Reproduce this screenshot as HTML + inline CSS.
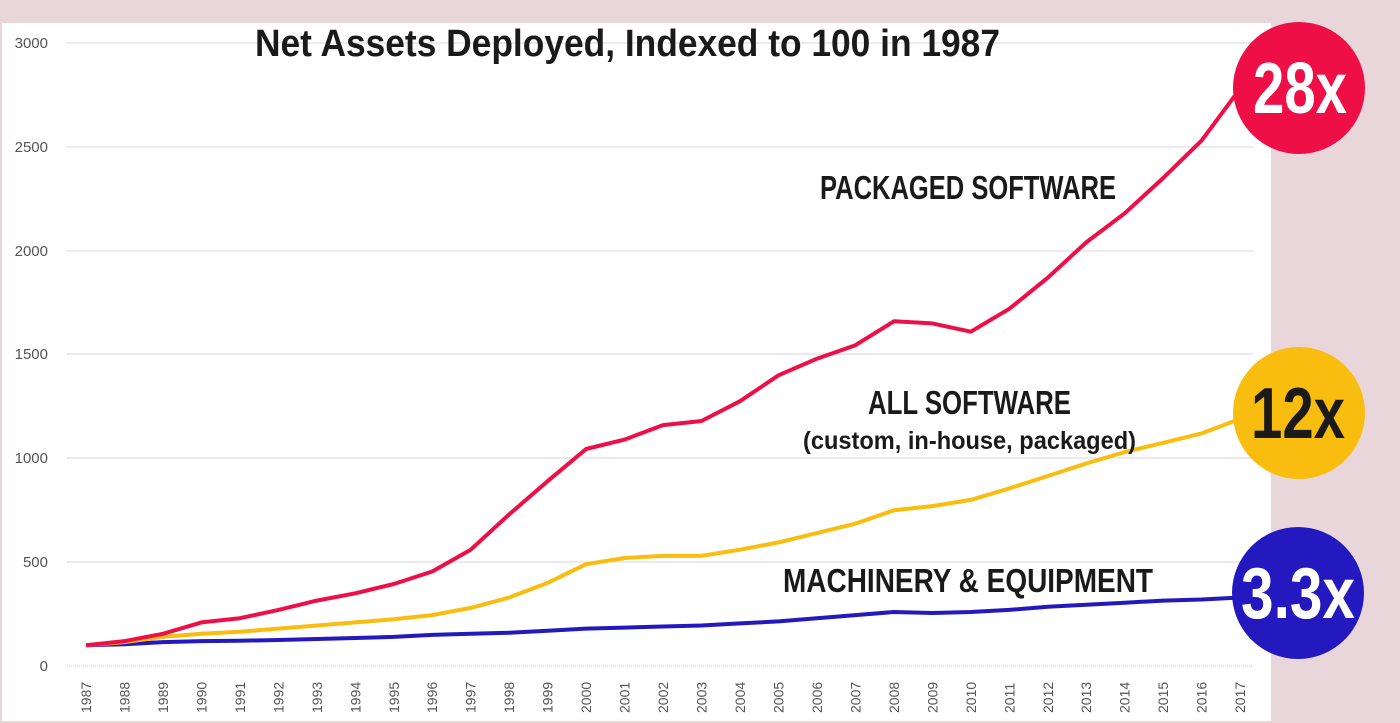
<!DOCTYPE html>
<html><head><meta charset="utf-8"><style>
html,body{margin:0;padding:0;background:#e8d6db;}
svg{display:block}
</style></head><body>
<svg width="1400" height="723" viewBox="0 0 1400 723" xmlns="http://www.w3.org/2000/svg" font-family="Liberation Sans, sans-serif">
<rect x="0" y="0" width="1400" height="723" fill="#e8d6db"/>
<rect x="2" y="23" width="1269" height="698" fill="#fff"/>
<g stroke="#ddd5d8" stroke-width="1">
<line x1="67" y1="43" x2="1253" y2="43"/>
<line x1="67" y1="147" x2="1253" y2="147"/>
<line x1="67" y1="251" x2="1253" y2="251"/>
<line x1="67" y1="354" x2="1253" y2="354"/>
<line x1="67" y1="458" x2="1253" y2="458"/>
<line x1="67" y1="562" x2="1253" y2="562"/>
<line x1="67" y1="666" x2="1253" y2="666" stroke="#ccc" stroke-dasharray="1,1"/>
</g>
<g font-size="15" fill="#555" text-anchor="end">
<text x="48" y="48">3000</text><text x="48" y="152">2500</text><text x="48" y="256">2000</text>
<text x="48" y="359">1500</text><text x="48" y="463">1000</text><text x="48" y="567">500</text><text x="48" y="671">0</text>
</g>
<g id="xl" font-size="14" fill="#555"></g>
<polyline id="blue" fill="none" stroke="#2419be" stroke-width="4" stroke-linejoin="round"/>
<polyline id="yel" fill="none" stroke="#f8bd0f" stroke-width="4" stroke-linejoin="round"/>
<polyline id="red" fill="none" stroke="#ef0f47" stroke-width="4" stroke-linejoin="round"/>
<text x="255" y="56" font-size="38" font-weight="bold" fill="#1a1a1a" textLength="745" lengthAdjust="spacingAndGlyphs">Net Assets Deployed, Indexed to 100 in 1987</text>
<text x="820" y="199" font-size="33" font-weight="bold" fill="#1a1a1a" textLength="296" lengthAdjust="spacingAndGlyphs">PACKAGED SOFTWARE</text>
<text x="868" y="414" font-size="33" font-weight="bold" fill="#1a1a1a" textLength="203" lengthAdjust="spacingAndGlyphs">ALL SOFTWARE</text>
<text x="803" y="449" font-size="25" font-weight="bold" fill="#1a1a1a" textLength="333" lengthAdjust="spacingAndGlyphs">(custom, in-house, packaged)</text>
<text x="783" y="592" font-size="33" font-weight="bold" fill="#1a1a1a" textLength="370" lengthAdjust="spacingAndGlyphs">MACHINERY &amp; EQUIPMENT</text>
<circle cx="1299" cy="88" r="66" fill="#ef0f47"/>
<circle cx="1299" cy="413" r="66" fill="#f8bd0f"/>
<circle cx="1298" cy="593" r="66" fill="#2419be"/>
<text x="1253" y="113" font-size="72" font-weight="bold" fill="#fff" textLength="94" lengthAdjust="spacingAndGlyphs">28x</text>
<text x="1251" y="438" font-size="72" font-weight="bold" fill="#1a1a1a" textLength="94" lengthAdjust="spacingAndGlyphs">12x</text>
<text x="1241" y="618" font-size="72" font-weight="bold" fill="#fff" textLength="114" lengthAdjust="spacingAndGlyphs">3.3x</text>
</svg>
<script>
var red=[100,120,155,210,230,270,315,350,395,455,560,730,890,1045,1090,1160,1180,1275,1400,1480,1545,1660,1650,1610,1720,1870,2040,2180,2350,2530,2780];
var yel=[100,115,140,155,165,180,195,210,225,245,280,330,400,490,520,530,530,560,595,640,685,750,770,800,855,915,975,1030,1075,1120,1190];
var blu=[100,105,115,120,122,125,130,135,140,150,155,160,170,180,185,190,195,205,215,230,245,260,255,260,270,285,295,305,315,320,330];
function X(i){return 86+i*38.47;}function Y(v){return 666-v*623/3000;}
function pts(a){return a.map(function(v,i){return X(i).toFixed(1)+","+Y(v).toFixed(1)}).join(" ");}
document.getElementById("red").setAttribute("points",pts(red)+" 1262,"+Y(2900).toFixed(1));
document.getElementById("yel").setAttribute("points",pts(yel));
document.getElementById("blu"+"e").setAttribute("points",pts(blu));
var g=document.getElementById("xl"),s="";
for(var i=0;i<31;i++){var x=X(i)+5;s+='<text transform="translate('+x.toFixed(1)+',713) rotate(-90)">'+(1987+i)+'</text>';}
g.innerHTML=s;
</script>
</body></html>
